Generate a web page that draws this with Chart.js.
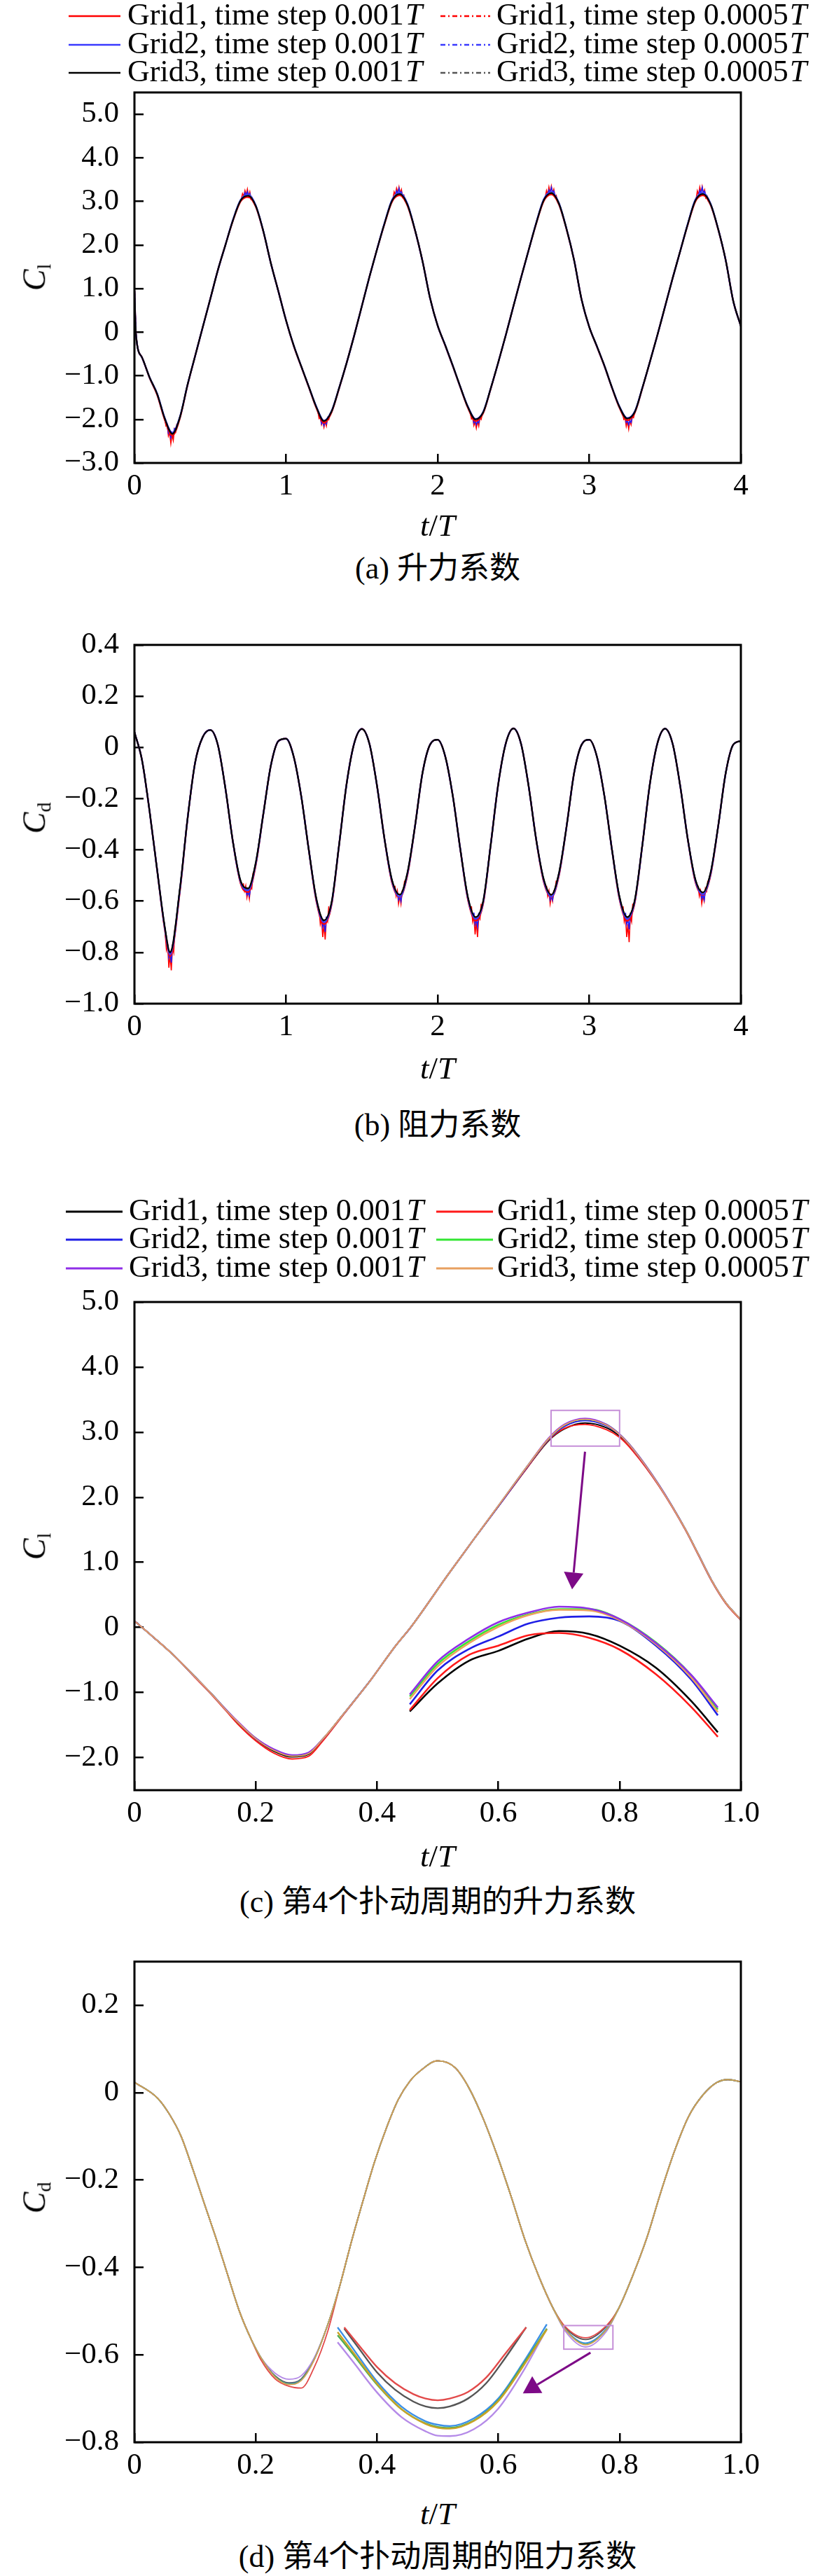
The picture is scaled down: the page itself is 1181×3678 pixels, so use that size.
<!DOCTYPE html>
<html><head><meta charset="utf-8">
<script src="https://cdn.jsdelivr.net/npm/chart.js@4.4.0/dist/chart.umd.min.js"></script>
<style>
html,body{margin:0;padding:0;background:#fff;}
#wrap{position:relative;width:1181px;height:3678px;background:#fff;overflow:hidden;}
#wrap canvas{position:absolute;left:0;}
.lbl{position:absolute;z-index:5;font-family:"Liberation Serif","Times New Roman",serif;color:#000;white-space:nowrap;line-height:1;}
.cap{font-family:"Liberation Serif","Noto Sans CJK SC",serif;font-size:44px;transform:translate(-50%,-50%);}
.xt{font-size:45px;transform:translate(-50%,-50%);}
.yt{font-size:46px;transform:translate(-50%,-50%) rotate(-90deg);}
.yt sub{font-style:normal;font-size:28px;vertical-align:-0.3em;}
</style></head>
<body><div id="wrap">
<div class="lbl yt" style="left:52px;top:396px"><i>C</i><sub>l</sub></div>
<div class="lbl xt" style="left:625px;top:750px"><i>t</i>/<i>T</i></div>
<div class="lbl cap" style="left:625px;top:812px">(a) 升力系数</div>
<div class="lbl yt" style="left:52px;top:1168px"><i>C</i><sub>d</sub></div>
<div class="lbl xt" style="left:625px;top:1525px"><i>t</i>/<i>T</i></div>
<div class="lbl cap" style="left:625px;top:1607px">(b) 阻力系数</div>
<div class="lbl yt" style="left:52px;top:2208px"><i>C</i><sub>l</sub></div>
<div class="lbl xt" style="left:625px;top:2650px"><i>t</i>/<i>T</i></div>
<div class="lbl cap" style="left:625px;top:2716px">(c) 第4个扑动周期的升力系数</div>
<div class="lbl yt" style="left:52px;top:3138px"><i>C</i><sub>d</sub></div>
<div class="lbl xt" style="left:625px;top:3589px"><i>t</i>/<i>T</i></div>
<div class="lbl cap" style="left:625px;top:3651px">(d) 第4个扑动周期的阻力系数</div>
</div>
<script>
// ---------------- names & ticks ----------------
const seriesNames = ['Grid1, time step 0.001T','Grid2, time step 0.001T','Grid3, time step 0.001T',
                     'Grid1, time step 0.0005T','Grid2, time step 0.0005T','Grid3, time step 0.0005T'];
const abXTicks = [0,1,2,3,4];
const abXLabels = ['0','1','2','3','4'];
const aYTicks = [-3,-2,-1,0,1,2,3,4,5];
const aYLabels = ['\u22123.0','\u22122.0','\u22121.0','0','1.0','2.0','3.0','4.0','5.0'];
const bYTicks = [-1,-0.8,-0.6,-0.4,-0.2,0,0.2,0.4];
const bYLabels = ['\u22121.0','\u22120.8','\u22120.6','\u22120.4','\u22120.2','0','0.2','0.4'];
const cdXTicks = [0,0.2,0.4,0.6,0.8,1.0];
const cdXLabels = ['0','0.2','0.4','0.6','0.8','1.0'];
const cYTicks = [-2,-1,0,1,2,3,4,5];
const cYLabels = ['\u22122.0','\u22121.0','0','1.0','2.0','3.0','4.0','5.0'];
const dYTicks = [-0.8,-0.6,-0.4,-0.2,0,0.2];
const dYLabels = ['\u22120.8','\u22120.6','\u22120.4','\u22120.2','0','0.2'];

// ---------------- (a) lift coefficient, 4 periods ----------------
const aT = [0,0.01,0.05,0.10,0.15,0.20,0.25,0.30,0.35,0.40,0.45,0.50,0.55,0.60,0.65,0.70,0.75,0.80,0.85,0.90,0.95,
 1.00,1.05,1.10,1.15,1.20,1.25,1.30,1.35,1.40,1.45,1.50,1.55,1.60,1.65,1.70,1.75,1.80,1.85,1.90,1.95,
 2.00,2.05,2.10,2.15,2.20,2.25,2.30,2.35,2.40,2.45,2.50,2.55,2.60,2.65,2.70,2.75,2.80,2.85,2.90,2.95,
 3.00,3.05,3.10,3.15,3.20,3.25,3.30,3.35,3.40,3.45,3.50,3.55,3.60,3.65,3.70,3.75,3.80,3.85,3.90,3.95,4.00];
const aGrid1_001 = [0.95,-0.05,-0.58,-1.05,-1.44,-2.01,-2.37,-1.97,-1.22,-0.55,0.11,0.76,1.42,2.00,2.56,3.00,3.10,2.88,2.31,1.58,0.93,
 0.27,-0.31,-0.79,-1.26,-1.74,-2.08,-1.84,-1.29,-0.70,-0.07,0.60,1.27,1.90,2.49,3.00,3.14,2.91,2.34,1.63,0.78,
 0.15,-0.31,-0.78,-1.27,-1.74,-2.04,-1.86,-1.30,-0.69,-0.06,0.60,1.25,1.88,2.49,3.01,3.16,2.93,2.36,1.65,0.74,
 0.12,-0.33,-0.78,-1.28,-1.74,-2.02,-1.85,-1.29,-0.68,-0.06,0.59,1.24,1.86,2.47,3.00,3.14,2.92,2.36,1.65,0.71,0.14];
const aGrid2_001 = [0.95,-0.05,-0.58,-1.04,-1.41,-1.97,-2.31,-1.94,-1.21,-0.55,0.11,0.76,1.42,2.00,2.58,3.03,3.16,2.91,2.32,1.58,0.93,
 0.27,-0.30,-0.78,-1.25,-1.71,-2.03,-1.81,-1.28,-0.70,-0.07,0.60,1.27,1.90,2.51,3.04,3.20,2.95,2.35,1.63,0.78,
 0.15,-0.30,-0.77,-1.26,-1.71,-1.99,-1.83,-1.29,-0.69,-0.06,0.60,1.25,1.88,2.51,3.05,3.22,2.96,2.37,1.65,0.74,
 0.12,-0.32,-0.77,-1.27,-1.71,-1.97,-1.82,-1.28,-0.68,-0.06,0.59,1.24,1.86,2.49,3.04,3.20,2.95,2.37,1.65,0.71,0.14];
const aGrid3_001 = [0.95,-0.05,-0.58,-1.04,-1.42,-1.98,-2.33,-1.95,-1.21,-0.55,0.11,0.76,1.42,2.00,2.57,3.02,3.13,2.90,2.32,1.58,0.93,
 0.27,-0.30,-0.78,-1.25,-1.72,-2.04,-1.82,-1.28,-0.70,-0.07,0.60,1.27,1.90,2.50,3.02,3.17,2.93,2.35,1.63,0.78,
 0.15,-0.30,-0.77,-1.26,-1.72,-2.00,-1.84,-1.29,-0.69,-0.06,0.60,1.25,1.88,2.50,3.03,3.19,2.95,2.37,1.65,0.74,
 0.12,-0.32,-0.77,-1.27,-1.72,-1.98,-1.83,-1.28,-0.68,-0.06,0.59,1.24,1.86,2.48,3.02,3.17,2.94,2.37,1.65,0.71,0.14];
const aGrid1_0005 = [0.95,-0.05,-0.58,-1.04,-1.43,-2.00,-2.35,-1.96,-1.21,-0.55,0.11,0.76,1.42,2.00,2.57,3.01,3.12,2.89,2.32,1.58,0.93,
 0.27,-0.30,-0.78,-1.25,-1.73,-2.06,-1.83,-1.28,-0.70,-0.07,0.60,1.27,1.90,2.50,3.01,3.16,2.92,2.35,1.63,0.78,
 0.15,-0.30,-0.77,-1.26,-1.73,-2.02,-1.85,-1.29,-0.69,-0.06,0.60,1.25,1.88,2.50,3.02,3.18,2.94,2.37,1.65,0.74,
 0.12,-0.32,-0.77,-1.27,-1.73,-2.00,-1.84,-1.28,-0.68,-0.06,0.59,1.24,1.86,2.48,3.01,3.16,2.93,2.37,1.65,0.71,0.14];
const aGrid2_0005 = [0.95,-0.05,-0.58,-1.04,-1.42,-1.97,-2.32,-1.95,-1.21,-0.55,0.11,0.76,1.42,2.00,2.57,3.03,3.15,2.90,2.32,1.58,0.93,
 0.27,-0.30,-0.78,-1.25,-1.72,-2.03,-1.82,-1.28,-0.70,-0.07,0.60,1.27,1.90,2.50,3.03,3.19,2.94,2.35,1.63,0.78,
 0.15,-0.30,-0.77,-1.26,-1.72,-1.99,-1.84,-1.29,-0.69,-0.06,0.60,1.25,1.88,2.50,3.04,3.21,2.95,2.37,1.65,0.74,
 0.12,-0.32,-0.77,-1.27,-1.72,-1.97,-1.83,-1.28,-0.68,-0.06,0.59,1.24,1.86,2.48,3.03,3.19,2.94,2.37,1.65,0.71,0.14];
const aGrid3_0005 = [0.95,-0.05,-0.58,-1.04,-1.42,-1.98,-2.34,-1.95,-1.21,-0.55,0.11,0.76,1.42,2.00,2.57,3.02,3.14,2.90,2.32,1.58,0.93,
 0.27,-0.30,-0.78,-1.25,-1.72,-2.04,-1.82,-1.28,-0.70,-0.07,0.60,1.27,1.90,2.50,3.02,3.18,2.93,2.35,1.63,0.78,
 0.15,-0.30,-0.77,-1.26,-1.72,-2.01,-1.84,-1.29,-0.69,-0.06,0.60,1.25,1.88,2.50,3.03,3.20,2.95,2.37,1.65,0.74,
 0.12,-0.32,-0.77,-1.27,-1.72,-1.99,-1.83,-1.28,-0.68,-0.06,0.59,1.24,1.86,2.48,3.02,3.18,2.94,2.37,1.65,0.71,0.14];
// noisy scatter of the Grid1/Grid2 runs around the extrema
const fuzzOff11 = [-0.04,-0.032,-0.024,-0.016,-0.008,0,0.008,0.016,0.024,0.032,0.04];
const fuzzOff9 = [-0.032,-0.024,-0.016,-0.008,0,0.008,0.016,0.024,0.032];
const fuzzOff7 = [-0.024,-0.016,-0.008,0,0.008,0.016,0.024];
const fuzzOff5 = [-0.016,-0.008,0,0.008,0.016];
const aFuzzCentres = [0.24,0.745,1.25,1.745,2.255,2.75,3.26,3.745];
const aRedFuzz = [
 [-2.0,-2.15,-2.12,-2.38,-2.30,-2.55,-2.35,-2.48,-2.22,-2.28,-2.1],
 [3.05,3.18,3.12,3.25,3.15,3.28,3.12,3.22,3.05,3.08,2.97],
 [-1.82,-1.98,-1.95,-2.12,-2.04,-2.18,-2.05,-2.15,-1.96,-2.0,-1.86],
 [3.06,3.22,3.15,3.30,3.2,3.33,3.18,3.27,3.1,3.14,3.0],
 [-1.84,-1.99,-1.96,-2.14,-2.05,-2.2,-2.04,-2.15,-1.96,-2.0,-1.87],
 [3.1,3.25,3.16,3.33,3.2,3.35,3.2,3.28,3.12,3.14,3.0],
 [-1.86,-2.0,-1.97,-2.16,-2.04,-2.22,-2.02,-2.12,-1.94,-1.96,-1.84],
 [3.06,3.24,3.15,3.33,3.2,3.34,3.18,3.26,3.08,3.12,3.0]];
const aBlueFuzz = [
 [-2.15,-2.32,-2.28,-2.42,-2.30,-2.36,-2.2],
 [3.10,3.2,3.14,3.22,3.13,3.18,3.05],
 [-1.95,-2.1,-2.04,-2.14,-2.05,-2.1,-1.95],
 [3.12,3.24,3.18,3.3,3.18,3.22,3.1],
 [-1.94,-2.08,-2.03,-2.12,-2.04,-2.08,-1.94],
 [3.14,3.26,3.2,3.32,3.2,3.24,3.12],
 [-1.93,-2.07,-2.02,-2.12,-2.03,-2.07,-1.92],
 [3.13,3.25,3.19,3.32,3.19,3.23,3.1]];

// ---------------- (b) drag coefficient, 4 periods ----------------
const bT = [0,0.05,0.10,0.15,0.20,0.235,0.30,0.35,0.40,0.45,0.50,0.55,0.60,0.65,0.70,0.75,0.80,0.85,0.90,0.95,
 1.00,1.05,1.10,1.15,1.20,1.25,1.30,1.35,1.40,1.45,1.50,1.55,1.60,1.65,1.70,1.75,1.80,1.85,1.90,1.95,
 2.00,2.05,2.10,2.15,2.20,2.25,2.30,2.35,2.40,2.45,2.50,2.55,2.60,2.65,2.70,2.75,2.80,2.85,2.90,2.95,
 3.00,3.05,3.10,3.15,3.20,3.25,3.30,3.35,3.40,3.45,3.50,3.55,3.60,3.65,3.70,3.75,3.80,3.85,3.90,3.95,4.00];
const bGrid3_001 = [0.06,-0.05,-0.25,-0.48,-0.70,-0.80,-0.55,-0.28,-0.06,0.04,0.068,0.01,-0.16,-0.37,-0.52,-0.55,-0.45,-0.26,-0.07,0.025,
 0.034,-0.035,-0.19,-0.40,-0.59,-0.675,-0.605,-0.38,-0.14,0.017,0.072,0.014,-0.15,-0.36,-0.52,-0.575,-0.49,-0.31,-0.10,0.011,
 0.030,-0.035,-0.19,-0.40,-0.585,-0.662,-0.60,-0.38,-0.142,0.017,0.074,0.014,-0.151,-0.36,-0.515,-0.575,-0.49,-0.31,-0.10,0.011,
 0.030,-0.035,-0.19,-0.40,-0.584,-0.662,-0.596,-0.382,-0.142,0.017,0.073,0.014,-0.151,-0.359,-0.515,-0.566,-0.489,-0.309,-0.10,0.011,0.025];
const bGrid1_001 = [0.06,-0.05,-0.25,-0.48,-0.71,-0.815,-0.56,-0.28,-0.06,0.04,0.068,0.01,-0.16,-0.37,-0.53,-0.565,-0.46,-0.26,-0.07,0.025,
 0.034,-0.035,-0.19,-0.40,-0.60,-0.69,-0.615,-0.38,-0.14,0.017,0.072,0.014,-0.15,-0.36,-0.53,-0.585,-0.50,-0.31,-0.10,0.011,
 0.030,-0.035,-0.19,-0.40,-0.595,-0.677,-0.61,-0.38,-0.142,0.017,0.074,0.014,-0.151,-0.36,-0.525,-0.585,-0.50,-0.31,-0.10,0.011,
 0.030,-0.035,-0.19,-0.40,-0.594,-0.677,-0.606,-0.382,-0.142,0.017,0.073,0.014,-0.151,-0.359,-0.525,-0.576,-0.499,-0.309,-0.10,0.011,0.025];
const bGrid2_001 = [0.06,-0.05,-0.25,-0.48,-0.705,-0.808,-0.555,-0.28,-0.06,0.04,0.068,0.01,-0.16,-0.37,-0.525,-0.558,-0.455,-0.26,-0.07,0.025,
 0.034,-0.035,-0.19,-0.40,-0.595,-0.683,-0.61,-0.38,-0.14,0.017,0.072,0.014,-0.15,-0.36,-0.525,-0.583,-0.495,-0.31,-0.10,0.011,
 0.030,-0.035,-0.19,-0.40,-0.59,-0.67,-0.605,-0.38,-0.142,0.017,0.074,0.014,-0.151,-0.36,-0.52,-0.583,-0.495,-0.31,-0.10,0.011,
 0.030,-0.035,-0.19,-0.40,-0.589,-0.67,-0.601,-0.382,-0.142,0.017,0.073,0.014,-0.151,-0.359,-0.52,-0.574,-0.494,-0.309,-0.10,0.011,0.025];
const bGrid1_0005 = [0.06,-0.05,-0.25,-0.48,-0.707,-0.81,-0.557,-0.28,-0.06,0.04,0.068,0.01,-0.16,-0.37,-0.527,-0.56,-0.457,-0.26,-0.07,0.025,
 0.034,-0.035,-0.19,-0.40,-0.597,-0.685,-0.612,-0.38,-0.14,0.017,0.072,0.014,-0.15,-0.36,-0.527,-0.58,-0.497,-0.31,-0.10,0.011,
 0.030,-0.035,-0.19,-0.40,-0.592,-0.672,-0.607,-0.38,-0.142,0.017,0.074,0.014,-0.151,-0.36,-0.522,-0.58,-0.497,-0.31,-0.10,0.011,
 0.030,-0.035,-0.19,-0.40,-0.591,-0.672,-0.603,-0.382,-0.142,0.017,0.073,0.014,-0.151,-0.359,-0.522,-0.572,-0.496,-0.309,-0.10,0.011,0.025];
const bGrid2_0005 = [0.06,-0.05,-0.25,-0.48,-0.703,-0.805,-0.553,-0.28,-0.06,0.04,0.068,0.01,-0.16,-0.37,-0.523,-0.556,-0.453,-0.26,-0.07,0.025,
 0.034,-0.035,-0.19,-0.40,-0.593,-0.68,-0.608,-0.38,-0.14,0.017,0.072,0.014,-0.15,-0.36,-0.523,-0.579,-0.493,-0.31,-0.10,0.011,
 0.030,-0.035,-0.19,-0.40,-0.588,-0.667,-0.603,-0.38,-0.142,0.017,0.074,0.014,-0.151,-0.36,-0.518,-0.579,-0.493,-0.31,-0.10,0.011,
 0.030,-0.035,-0.19,-0.40,-0.587,-0.667,-0.599,-0.382,-0.142,0.017,0.073,0.014,-0.151,-0.359,-0.518,-0.57,-0.492,-0.309,-0.10,0.011,0.025];
const bGrid3_0005 = [0.06,-0.05,-0.25,-0.48,-0.701,-0.802,-0.551,-0.28,-0.06,0.04,0.068,0.01,-0.16,-0.37,-0.521,-0.552,-0.451,-0.26,-0.07,0.025,
 0.034,-0.035,-0.19,-0.40,-0.591,-0.677,-0.606,-0.38,-0.14,0.017,0.072,0.014,-0.15,-0.36,-0.521,-0.577,-0.491,-0.31,-0.10,0.011,
 0.030,-0.035,-0.19,-0.40,-0.586,-0.664,-0.601,-0.38,-0.142,0.017,0.074,0.014,-0.151,-0.36,-0.516,-0.577,-0.491,-0.31,-0.10,0.011,
 0.030,-0.035,-0.19,-0.40,-0.585,-0.664,-0.597,-0.382,-0.142,0.017,0.073,0.014,-0.151,-0.359,-0.516,-0.568,-0.49,-0.309,-0.10,0.011,0.025];
const bFuzzCentres = [0.235,0.75,1.25,1.75,2.255,2.75,3.255,3.75];
const bRedFuzz = [
 [-0.73,-0.79,-0.77,-0.86,-0.81,-0.87,-0.78,-0.80,-0.70],
 [-0.53,-0.56,-0.54,-0.585,-0.56,-0.59,-0.54,-0.55,-0.49],
 [-0.63,-0.69,-0.67,-0.74,-0.69,-0.75,-0.67,-0.68,-0.62],
 [-0.54,-0.58,-0.56,-0.61,-0.58,-0.61,-0.56,-0.56,-0.52],
 [-0.62,-0.68,-0.66,-0.73,-0.68,-0.74,-0.66,-0.67,-0.61],
 [-0.54,-0.58,-0.56,-0.61,-0.58,-0.60,-0.56,-0.56,-0.52],
 [-0.62,-0.68,-0.66,-0.74,-0.69,-0.76,-0.66,-0.68,-0.61],
 [-0.54,-0.58,-0.56,-0.61,-0.58,-0.60,-0.55,-0.56,-0.52]];
const bBlueFuzz = [
 [-0.77,-0.82,-0.80,-0.84,-0.77],
 [-0.55,-0.575,-0.565,-0.58,-0.55],
 [-0.66,-0.70,-0.68,-0.72,-0.66],
 [-0.565,-0.595,-0.58,-0.60,-0.565],
 [-0.645,-0.69,-0.67,-0.70,-0.645],
 [-0.565,-0.595,-0.58,-0.595,-0.565],
 [-0.645,-0.69,-0.67,-0.71,-0.645],
 [-0.56,-0.59,-0.575,-0.595,-0.56]];

// ---------------- (c) lift coefficient, 4th period ----------------
const cT = [0,0.03,0.065,0.1,0.126,0.15,0.17,0.2,0.23,0.26,0.287,0.31,0.343,0.387,0.43,0.457,0.517,0.56,0.604,0.648,0.683,0.709,0.743,0.778,0.8,0.822,0.865,0.909,0.93,0.952,0.975,1.0];
const cGrid1_001 = [0.10,-0.14,-0.43,-0.76,-1.01,-1.26,-1.46,-1.72,-1.90,-1.99,-1.95,-1.73,-1.35,-0.84,-0.29,0.02,0.81,1.36,1.91,2.46,2.87,3.05,3.14,3.07,2.94,2.73,2.18,1.50,1.12,0.72,0.38,0.12];
const cGrid2_001 = [0.10,-0.14,-0.43,-0.76,-1.01,-1.26,-1.45,-1.71,-1.88,-1.97,-1.93,-1.72,-1.35,-0.84,-0.29,0.02,0.81,1.36,1.91,2.47,2.89,3.09,3.18,3.10,2.96,2.74,2.18,1.50,1.12,0.72,0.38,0.12];
const cGrid3_001 = [0.10,-0.14,-0.43,-0.76,-1.01,-1.25,-1.44,-1.70,-1.87,-1.96,-1.92,-1.72,-1.35,-0.84,-0.29,0.02,0.81,1.36,1.92,2.48,2.91,3.12,3.21,3.12,2.97,2.75,2.19,1.50,1.12,0.72,0.38,0.12];
const cGrid1_0005 = [0.10,-0.14,-0.43,-0.77,-1.02,-1.27,-1.48,-1.74,-1.93,-2.02,-1.98,-1.75,-1.36,-0.84,-0.29,0.02,0.81,1.36,1.91,2.46,2.88,3.06,3.12,3.04,2.92,2.71,2.17,1.49,1.11,0.71,0.37,0.11];
const cGrid2_0005 = [0.10,-0.14,-0.43,-0.76,-1.01,-1.25,-1.45,-1.70,-1.88,-1.97,-1.93,-1.72,-1.35,-0.84,-0.29,0.02,0.81,1.36,1.92,2.48,2.90,3.11,3.20,3.12,2.97,2.75,2.19,1.50,1.12,0.72,0.38,0.12];
const cGrid3_0005 = [0.10,-0.14,-0.43,-0.76,-1.01,-1.26,-1.45,-1.71,-1.89,-1.98,-1.94,-1.72,-1.35,-0.84,-0.29,0.02,0.81,1.36,1.92,2.48,2.90,3.11,3.20,3.11,2.96,2.74,2.18,1.50,1.12,0.72,0.38,0.12];
// magnified peak (drawn inside the axes)
const cZoomT = [0.454,0.50,0.552,0.60,0.65,0.70,0.75,0.80,0.86,0.918,0.962];
const cZoomGrid1_001 = [-1.29,-0.86,-0.51,-0.36,-0.17,-0.055,-0.10,-0.28,-0.62,-1.13,-1.61];
const cZoomGrid2_001 = [-1.18,-0.66,-0.33,-0.14,0.06,0.15,0.17,0.10,-0.28,-0.80,-1.35];
const cZoomGrid3_001 = [-1.03,-0.52,-0.17,0.08,0.23,0.32,0.29,0.13,-0.24,-0.73,-1.23];
const cZoomGrid1_0005 = [-1.27,-0.78,-0.42,-0.28,-0.12,-0.085,-0.16,-0.34,-0.72,-1.22,-1.68];
const cZoomGrid2_0005 = [-1.06,-0.56,-0.21,0.04,0.20,0.28,0.28,0.13,-0.23,-0.73,-1.26];
const cZoomGrid3_0005 = [-1.10,-0.60,-0.24,0.01,0.19,0.27,0.26,0.11,-0.26,-0.77,-1.30];

// ---------------- (d) drag coefficient, 4th period ----------------
const dT = [0,0.0385,0.058,0.077,0.096,0.115,0.135,0.154,0.173,0.192,0.208,0.232,0.255,0.275,0.296,0.319,0.339,0.358,0.377,0.396,0.416,0.435,0.454,0.474,0.5,
 0.529,0.552,0.575,0.598,0.621,0.644,0.667,0.691,0.710,0.744,0.779,0.798,0.821,0.845,0.867,0.891,0.914,0.937,0.960,0.979,1.0];
const dGrid1_001 = [0.024,-0.013,-0.05,-0.10,-0.174,-0.253,-0.335,-0.418,-0.50,-0.563,-0.605,-0.648,-0.664,-0.655,-0.61,-0.53,-0.44,-0.34,-0.247,-0.158,-0.079,-0.016,0.026,0.053,0.073,
 0.057,0.010,-0.059,-0.143,-0.237,-0.337,-0.421,-0.495,-0.537,-0.565,-0.534,-0.495,-0.421,-0.332,-0.232,-0.132,-0.054,-0.006,0.023,0.030,0.025];
const dGrid2_001 = [0.024,-0.013,-0.05,-0.10,-0.174,-0.253,-0.335,-0.418,-0.50,-0.563,-0.605,-0.650,-0.666,-0.657,-0.612,-0.53,-0.44,-0.34,-0.247,-0.158,-0.079,-0.016,0.026,0.053,0.073,
 0.057,0.010,-0.059,-0.143,-0.237,-0.337,-0.421,-0.495,-0.540,-0.573,-0.539,-0.495,-0.421,-0.332,-0.232,-0.132,-0.054,-0.006,0.023,0.030,0.025];
const dGrid3_001 = [0.024,-0.013,-0.05,-0.10,-0.174,-0.253,-0.335,-0.418,-0.50,-0.563,-0.605,-0.642,-0.656,-0.648,-0.608,-0.53,-0.44,-0.34,-0.247,-0.158,-0.079,-0.016,0.026,0.053,0.073,
 0.057,0.010,-0.059,-0.143,-0.237,-0.337,-0.421,-0.495,-0.545,-0.582,-0.545,-0.495,-0.421,-0.332,-0.232,-0.132,-0.054,-0.006,0.023,0.030,0.025];
const dGrid1_0005 = [0.024,-0.013,-0.05,-0.10,-0.174,-0.253,-0.335,-0.418,-0.50,-0.563,-0.61,-0.655,-0.672,-0.676,-0.63,-0.545,-0.44,-0.34,-0.247,-0.158,-0.079,-0.016,0.026,0.053,0.073,
 0.057,0.010,-0.059,-0.143,-0.237,-0.337,-0.421,-0.495,-0.535,-0.561,-0.532,-0.495,-0.421,-0.332,-0.232,-0.132,-0.054,-0.006,0.023,0.030,0.025];
const dGrid2_0005 = [0.024,-0.013,-0.05,-0.10,-0.174,-0.253,-0.335,-0.418,-0.50,-0.563,-0.605,-0.650,-0.667,-0.658,-0.612,-0.53,-0.44,-0.34,-0.247,-0.158,-0.079,-0.016,0.026,0.053,0.073,
 0.057,0.010,-0.059,-0.143,-0.237,-0.337,-0.421,-0.495,-0.541,-0.576,-0.541,-0.495,-0.421,-0.332,-0.232,-0.132,-0.054,-0.006,0.023,0.030,0.025];
const dGrid3_0005 = [0.024,-0.013,-0.05,-0.10,-0.174,-0.253,-0.335,-0.418,-0.50,-0.563,-0.605,-0.651,-0.668,-0.659,-0.613,-0.53,-0.44,-0.34,-0.247,-0.158,-0.079,-0.016,0.026,0.053,0.073,
 0.057,0.010,-0.059,-0.143,-0.237,-0.337,-0.421,-0.495,-0.541,-0.577,-0.541,-0.495,-0.421,-0.332,-0.232,-0.132,-0.054,-0.006,0.023,0.030,0.025];
// magnified second trough
const dZoomT = [0.335,0.36,0.40,0.44,0.48,0.50,0.52,0.56,0.60,0.64,0.68];
const dZoomGrid2_001 = [-0.537,-0.585,-0.661,-0.718,-0.752,-0.760,-0.763,-0.745,-0.700,-0.620,-0.530];
const dZoomGrid3_001 = [-0.571,-0.615,-0.686,-0.742,-0.775,-0.785,-0.786,-0.770,-0.723,-0.640,-0.540];
const dZoomGrid2_0005 = [-0.555,-0.598,-0.668,-0.724,-0.757,-0.765,-0.767,-0.750,-0.704,-0.624,-0.540];
const dZoomGrid3_0005 = [-0.548,-0.593,-0.666,-0.724,-0.758,-0.767,-0.769,-0.751,-0.706,-0.628,-0.542];
const dZoomT1 = [0.346,0.37,0.40,0.43,0.46,0.48,0.50,0.52,0.55,0.58,0.61,0.646];
const dZoomGrid1_001 = [-0.540,-0.585,-0.640,-0.680,-0.707,-0.718,-0.722,-0.718,-0.700,-0.665,-0.610,-0.537];
const dZoomGrid1_0005 = [-0.537,-0.578,-0.628,-0.665,-0.690,-0.700,-0.704,-0.700,-0.685,-0.652,-0.600,-0.537];

// ---------------- helpers ----------------
const FONT = '"Liberation Serif", "Times New Roman", serif';
const W = 1181;
const DD = [7,4,2,4];
function pts(t, v){ return t.map((x,i)=>({x:x, y:v[i]})); }
function fuzzPts(centres, offs, vals){
  const out = [];
  centres.forEach((c,k)=>{
    offs.forEach((o,i)=>out.push({x:+(c+o).toFixed(4), y:vals[k][i]}));
    out.push({x:+(c+offs[offs.length-1]).toFixed(4), y:null});
  });
  return out;
}
function ds(label, data, color, width, dash, extra){
  return Object.assign({label:label, data:data, borderColor:color, backgroundColor:color,
    borderWidth:width, borderDash:dash||[], pointRadius:0, fill:false,
    cubicInterpolationMode:'monotone', spanGaps:false}, extra||{});
}
function drawLegend(ctx, items, rowsY, cols, lw){
  items.forEach((it,k)=>{
    const r = Math.floor(k/2), c = k%2, y = rowsY[r], col = cols[c];
    ctx.save();
    ctx.strokeStyle = it.color; ctx.lineWidth = lw; ctx.setLineDash(it.dash||[]);
    ctx.beginPath(); ctx.moveTo(col.x1,y); ctx.lineTo(col.x2,y); ctx.stroke();
    ctx.setLineDash([]);
    ctx.fillStyle = '#000'; ctx.textBaseline = 'middle'; ctx.textAlign = 'left';
    const main = it.name.slice(0,-1), last = it.name.slice(-1);
    ctx.font = '44px ' + FONT;
    ctx.fillText(main, col.tx, y);
    const w = ctx.measureText(main).width;
    ctx.font = 'italic 44px ' + FONT;
    ctx.fillText(last, col.tx + w + 2, y);
    ctx.restore();
  });
}
function drawAnnot(chart, an){
  const ctx = chart.ctx, xs = chart.scales.x, ys = chart.scales.y;
  ctx.save();
  const rx0 = xs.getPixelForValue(an.rect[0]), rx1 = xs.getPixelForValue(an.rect[1]);
  const ry0 = ys.getPixelForValue(an.rect[2]), ry1 = ys.getPixelForValue(an.rect[3]);
  ctx.strokeStyle = '#c58fd8'; ctx.lineWidth = 2;
  ctx.strokeRect(rx0, ry1, rx1-rx0, ry0-ry1);
  const ax0 = xs.getPixelForValue(an.arrow[0]), ay0 = ys.getPixelForValue(an.arrow[1]);
  const ax1 = xs.getPixelForValue(an.arrow[2]), ay1 = ys.getPixelForValue(an.arrow[3]);
  const dx = ax1-ax0, dy = ay1-ay0, L = Math.hypot(dx,dy), ux = dx/L, uy = dy/L;
  const bx = ax1 - ux*an.head[0], by = ay1 - uy*an.head[0];
  ctx.strokeStyle = '#7d0a87'; ctx.fillStyle = '#7d0a87'; ctx.lineWidth = 3;
  ctx.beginPath(); ctx.moveTo(ax0,ay0); ctx.lineTo(bx,by); ctx.stroke();
  ctx.beginPath(); ctx.moveTo(ax1,ay1);
  ctx.lineTo(bx - uy*an.head[1]/2, by + ux*an.head[1]/2);
  ctx.lineTo(bx + uy*an.head[1]/2, by - ux*an.head[1]/2);
  ctx.closePath(); ctx.fill();
  ctx.restore();
}
function panel(p){
  const cv = document.createElement('canvas');
  cv.width = W; cv.height = p.height;
  cv.style.top = p.top + 'px';
  document.getElementById('wrap').appendChild(cv);
  const A = p.area;
  const tickFont = {family:FONT, size:43};
  const grid = {display:true, drawOnChartArea:false, drawTicks:true, tickLength:-13, lineWidth:2.5, tickWidth:2.5, tickColor:'#000'};
  const overlay = {
    id:'overlay_'+p.top,
    afterDatasetsDraw(chart){
      const ctx = chart.ctx, a = chart.chartArea;
      if (p.annot) drawAnnot(chart, p.annot);
      ctx.save(); ctx.strokeStyle = '#000'; ctx.lineWidth = 3;
      ctx.strokeRect(a.left, a.top, a.right-a.left, a.bottom-a.top); ctx.restore();
      if (p.legend) {
        const items = p.legend.order.map(i=>{ const d = p.datasets[i];
          return {name:d.label, color:d.borderColor, dash:d.borderDash}; });
        drawLegend(ctx, items, p.legend.rows, p.legend.cols, p.legend.lw);
      }
    }
  };
  // list is bottom-to-top; Chart.js paints index 0 last, so reverse
  const drawList = p.datasets.slice().reverse();
  new Chart(cv, {
    type:'line',
    data:{datasets:drawList},
    options:{
      responsive:false, animation:false, devicePixelRatio:1, events:[],
      layout:{padding:{left:0, right:W-A.r, top:A.t, bottom:0}},
      plugins:{legend:{display:false}, tooltip:{enabled:false}},
      scales:{
        x:{type:'linear', position:'bottom', min:p.xMin, max:p.xMax,
          afterBuildTicks:s=>{ s.ticks = p.xTicks.map(v=>({value:v})); },
          afterFit:s=>{ s.height = p.height - A.b; },
          ticks:{callback:(v,i)=>p.xLabels[i], font:tickFont, color:'#000', padding:21, maxRotation:0, minRotation:0, autoSkip:false},
          grid:grid, border:{display:false}},
        y:{type:'linear', position:'left', min:p.yMin, max:p.yMax,
          afterBuildTicks:s=>{ s.ticks = p.yTicks.map(v=>({value:v})); },
          afterFit:s=>{ s.width = A.l; },
          ticks:{callback:(v,i)=>p.yLabels[i], font:tickFont, color:'#000', padding:35, autoSkip:false},
          grid:grid, border:{display:false}}
      }
    },
    plugins:[overlay]
  });
}

function build(){
  const flat = {cubicInterpolationMode:'default', tension:0};
  // (a)
  panel({top:0, height:725, area:{l:192, r:1058, t:132, b:661},
    xMin:0, xMax:4, xTicks:abXTicks, xLabels:abXLabels,
    yMin:-3, yMax:5.5, yTicks:aYTicks, yLabels:aYLabels,
    datasets:[
      ds(seriesNames[0], fuzzPts(aFuzzCentres, fuzzOff11, aRedFuzz), '#ff0000', 1.6, [], flat),
      ds(seriesNames[1], fuzzPts(aFuzzCentres, fuzzOff7, aBlueFuzz), '#2020ff', 1.6, [], flat),
      ds(seriesNames[0], pts(aT, aGrid1_001), '#ff0000', 2.4),
      ds(seriesNames[3], pts(aT, aGrid1_0005), '#ff0000', 2, DD),
      ds(seriesNames[1], pts(aT, aGrid2_001), '#3a3aff', 2.4),
      ds(seriesNames[4], pts(aT, aGrid2_0005), '#3a3aff', 2, DD),
      ds(seriesNames[5], pts(aT, aGrid3_0005), '#555555', 2, DD),
      ds(seriesNames[2], pts(aT, aGrid3_001), '#000000', 2.2)
    ],
    legend:{order:[2,3,4,5,7,6], rows:[23,64,104], cols:[{x1:98,x2:172,tx:182},{x1:629,x2:700,tx:709}], lw:2.5}
  });
  // (b)
  panel({top:860, height:640, area:{l:192, r:1058, t:44, b:573},
    xMin:0, xMax:4, xTicks:abXTicks, xLabels:abXLabels,
    yMin:-1, yMax:0.4, yTicks:bYTicks, yLabels:bYLabels,
    datasets:[
      ds(seriesNames[0], fuzzPts(bFuzzCentres, fuzzOff9, bRedFuzz), '#ff0000', 1.6, [], flat),
      ds(seriesNames[1], fuzzPts(bFuzzCentres, fuzzOff5, bBlueFuzz), '#2020ff', 1.6, [], flat),
      ds(seriesNames[0], pts(bT, bGrid1_001), '#ff0000', 2.4),
      ds(seriesNames[3], pts(bT, bGrid1_0005), '#ff0000', 2, DD),
      ds(seriesNames[1], pts(bT, bGrid2_001), '#3a3aff', 2.4),
      ds(seriesNames[4], pts(bT, bGrid2_0005), '#3a3aff', 2, DD),
      ds(seriesNames[5], pts(bT, bGrid3_0005), '#555555', 2, DD),
      ds(seriesNames[2], pts(bT, bGrid3_001), '#000000', 2.2)
    ]
  });
  // (c)
  panel({top:1690, height:940, area:{l:192, r:1058, t:169, b:866},
    xMin:0, xMax:1, xTicks:cdXTicks, xLabels:cdXLabels,
    yMin:-2.5, yMax:5, yTicks:cYTicks, yLabels:cYLabels,
    datasets:[
      ds(seriesNames[0], pts(cT, cGrid1_001), '#000000', 2),
      ds(seriesNames[3], pts(cT, cGrid1_0005), '#ff1a1a', 2),
      ds(seriesNames[1], pts(cT, cGrid2_001), '#1f1fe6', 2),
      ds(seriesNames[4], pts(cT, cGrid2_0005), '#33e633', 2),
      ds(seriesNames[2], pts(cT, cGrid3_001), '#8f2fe8', 2),
      ds(seriesNames[5], pts(cT, cGrid3_0005), '#e8a060', 1.8),
      ds(seriesNames[0], pts(cZoomT, cZoomGrid1_001), '#000000', 2.6),
      ds(seriesNames[3], pts(cZoomT, cZoomGrid1_0005), '#ff1a1a', 2.6),
      ds(seriesNames[1], pts(cZoomT, cZoomGrid2_001), '#1f1fe6', 2.6),
      ds(seriesNames[4], pts(cZoomT, cZoomGrid2_0005), '#33e633', 2.6),
      ds(seriesNames[5], pts(cZoomT, cZoomGrid3_0005), '#eda35c', 2.6),
      ds(seriesNames[2], pts(cZoomT, cZoomGrid3_001), '#8f2fe8', 2.6)
    ],
    legend:{order:[0,1,2,3,4,5], rows:[40,80,121], cols:[{x1:94,x2:175,tx:184},{x1:623,x2:704,tx:710}], lw:3},
    annot:{rect:[0.687,0.800,2.786,3.335], arrow:[0.743,2.70,0.7217,0.585], head:[24,28]}
  });
  // (d)
  panel({top:2740, height:810, area:{l:192, r:1058, t:49, b:747},
    xMin:0, xMax:1, xTicks:cdXTicks, xLabels:cdXLabels,
    yMin:-0.8, yMax:0.3, yTicks:dYTicks, yLabels:dYLabels,
    datasets:[
      ds(seriesNames[0], pts(dT, dGrid1_001), '#555555', 1.8),
      ds(seriesNames[1], pts(dT, dGrid2_001), '#3b8fe6', 1.8),
      ds(seriesNames[2], pts(dT, dGrid3_001), '#b58be8', 1.8),
      ds(seriesNames[3], pts(dT, dGrid1_0005), '#e24a4a', 1.8),
      ds(seriesNames[4], pts(dT, dGrid2_0005), '#4fae4f', 1.8),
      ds(seriesNames[5], pts(dT, dGrid3_0005), '#d9a05a', 1.6),
      ds(seriesNames[2], pts(dZoomT, dZoomGrid3_001), '#b58be8', 2.4),
      ds(seriesNames[1], pts(dZoomT, dZoomGrid2_001), '#3b8fe6', 2.4),
      ds(seriesNames[4], pts(dZoomT, dZoomGrid2_0005), '#4fae4f', 2.4),
      ds(seriesNames[5], pts(dZoomT, dZoomGrid3_0005), '#c9a227', 2.4),
      ds(seriesNames[0], pts(dZoomT1, dZoomGrid1_001), '#555555', 2.4),
      ds(seriesNames[3], pts(dZoomT1, dZoomGrid1_0005), '#e24a4a', 2.4)
    ],
    annot:{rect:[0.708,0.789,-0.587,-0.533], arrow:[0.752,-0.595,0.6405,-0.688], head:[24,28]}
  });
}
Promise.all([
  document.fonts.load('43px "Liberation Serif"'),
  document.fonts.load('italic 44px "Liberation Serif"')
]).catch(()=>{}).then(build);
</script>
</body></html>
